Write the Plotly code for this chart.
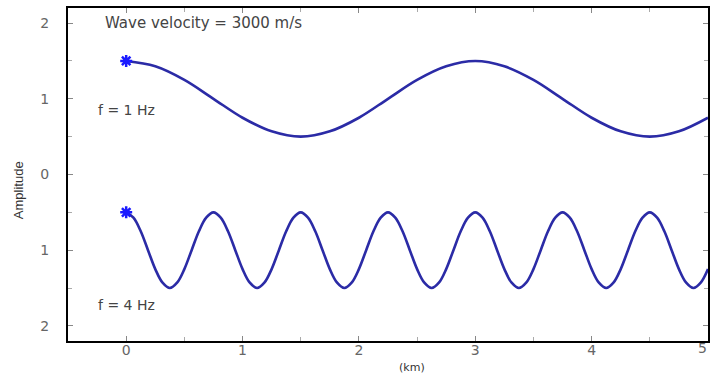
import plotly.graph_objects as go

# 1 Hz wave (values read every 0.25 km)
x_1hz = [0, 0.25, 0.5, 0.75, 1.0, 1.25, 1.5, 1.75, 2.0, 2.25, 2.5,
         2.75, 3.0, 3.25, 3.5, 3.75, 4.0, 4.25, 4.5, 4.75, 5.0]
y_1hz = [1.5, 1.43, 1.25, 1.0, 0.75, 0.57, 0.5, 0.57, 0.75, 1.0, 1.25,
         1.43, 1.5, 1.43, 1.25, 1.0, 0.75, 0.57, 0.5, 0.57, 0.75]

# 4 Hz wave (values read every 0.0625 km)
x_4hz = [0, 0.0625, 0.125, 0.1875, 0.25, 0.3125, 0.375, 0.4375, 0.5, 0.5625, 0.625, 0.6875,
         0.75, 0.8125, 0.875, 0.9375, 1.0, 1.0625, 1.125, 1.1875, 1.25, 1.3125, 1.375, 1.4375,
         1.5, 1.5625, 1.625, 1.6875, 1.75, 1.8125, 1.875, 1.9375, 2.0, 2.0625, 2.125, 2.1875,
         2.25, 2.3125, 2.375, 2.4375, 2.5, 2.5625, 2.625, 2.6875, 2.75, 2.8125, 2.875, 2.9375,
         3.0, 3.0625, 3.125, 3.1875, 3.25, 3.3125, 3.375, 3.4375, 3.5, 3.5625, 3.625, 3.6875,
         3.75, 3.8125, 3.875, 3.9375, 4.0, 4.0625, 4.125, 4.1875, 4.25, 4.3125, 4.375, 4.4375,
         4.5, 4.5625, 4.625, 4.6875, 4.75, 4.8125, 4.875, 4.9375, 5.0]
y_4hz = [-0.5, -0.57, -0.75, -1.0, -1.25, -1.43, -1.5, -1.43, -1.25, -1.0, -0.75, -0.57,
         -0.5, -0.57, -0.75, -1.0, -1.25, -1.43, -1.5, -1.43, -1.25, -1.0, -0.75, -0.57,
         -0.5, -0.57, -0.75, -1.0, -1.25, -1.43, -1.5, -1.43, -1.25, -1.0, -0.75, -0.57,
         -0.5, -0.57, -0.75, -1.0, -1.25, -1.43, -1.5, -1.43, -1.25, -1.0, -0.75, -0.57,
         -0.5, -0.57, -0.75, -1.0, -1.25, -1.43, -1.5, -1.43, -1.25, -1.0, -0.75, -0.57,
         -0.5, -0.57, -0.75, -1.0, -1.25, -1.43, -1.5, -1.43, -1.25, -1.0, -0.75, -0.57,
         -0.5, -0.57, -0.75, -1.0, -1.25, -1.43, -1.5, -1.43, -1.25]

source_x = [0, 0]
source_y = [1.5, -0.5]

y_tickvals = [-2, -1, 0, 1, 2]
y_ticktext = ["2", "1", "0", "1", "2"]
x_tickvals = [0, 1, 2, 3, 4, 5]

line_color = "#2b2ba6"
text_font = "DejaVu Sans, Open Sans"

fig = go.Figure()
for xs, ys in [(x_1hz, y_1hz), (x_4hz, y_4hz)]:
    fig.add_trace(go.Scatter(x=xs, y=ys, mode="lines",
                             line=dict(color=line_color, width=2.6, shape="spline", smoothing=1.0),
                             showlegend=False, hoverinfo="skip"))
fig.add_trace(go.Scatter(x=source_x, y=source_y, mode="markers",
                         marker=dict(symbol="asterisk-open", size=10, color="#1a1aff",
                                     line=dict(color="#1a1aff", width=2.5)),
                         showlegend=False))

axis_common = dict(showgrid=False, zeroline=False, showline=True, linecolor="black",
                   linewidth=2, mirror="allticks", ticks="inside", ticklen=5,
                   tickcolor="#888", tickfont=dict(family=text_font, size=14, color="#666"))

fig.update_xaxes(range=[-0.5, 5], tickvals=x_tickvals, ticklabelstandoff=-5,
                 minor=dict(dtick=0.5, ticks="inside", ticklen=4, tickcolor="#aaa"),
                 **axis_common)
fig.update_yaxes(range=[-2.2, 2.2], tickvals=y_tickvals, ticktext=y_ticktext,
                 ticklabelstandoff=14,
                 minor=dict(dtick=0.5, ticks="inside", ticklen=4, tickcolor="#aaa"),
                 **axis_common)

# last x tick label, kept just inside the page edge
fig.add_annotation(x=x_tickvals[-1], y=-(348 - 341) / 333, xref="x", yref="paper",
                   text=str(x_tickvals[-1]), showarrow=False, xanchor="right", yanchor="middle",
                   xshift=1, font=dict(family=text_font, size=14, color="#666"))

fig.add_annotation(x=-0.2, y=2.0, xref="x", yref="y", text="Wave velocity = 3000 m/s",
                   showarrow=False, xanchor="left", yanchor="middle",
                   font=dict(family=text_font, size=15, color="#444"))
fig.add_annotation(x=-0.26, y=0.85, xref="x", yref="y", text="f = 1 Hz",
                   showarrow=False, xanchor="left", yanchor="middle",
                   font=dict(family=text_font, size=14, color="#444"))
fig.add_annotation(x=-0.26, y=-1.72, xref="x", yref="y", text="f = 4 Hz",
                   showarrow=False, xanchor="left", yanchor="middle",
                   font=dict(family=text_font, size=14, color="#444"))
fig.add_annotation(x=(413 - 68) / 642, y=-(367 - 341) / 333, xref="paper", yref="paper",
                   text="(km)", showarrow=False, xanchor="center", yanchor="middle",
                   font=dict(family=text_font, size=11, color="#333"))
fig.add_annotation(x=-(68 - 18) / 642, y=(341 - 190) / 333, xref="paper", yref="paper",
                   text="Amplitude", textangle=-90, showarrow=False,
                   xanchor="center", yanchor="middle",
                   font=dict(family="Liberation Sans Narrow, Liberation Sans", size=13, color="#333"))

fig.update_layout(width=711, height=376, margin=dict(l=68, r=1, t=8, b=35),
                  plot_bgcolor="white", paper_bgcolor="white")

fig.write_html("out.html")
